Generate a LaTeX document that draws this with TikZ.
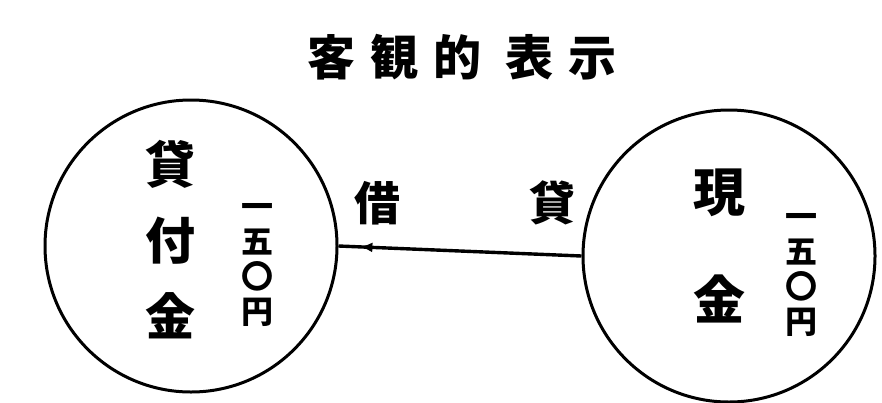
\documentclass[tikz,border=0pt]{standalone}
\usepackage{fontspec}
\newfontfamily\cjk{Noto Sans CJK JP}
\usetikzlibrary{decorations.markings,arrows.meta}
\tikzset{
  ring/.style={circle, draw, line width=3pt, minimum size=292pt, inner sep=0pt},
  bigchar/.style={font=\cjk\bfseries\fontsize{50}{76}\selectfont, align=center, inner sep=0pt},
  numcol/.style={font=\cjk\bfseries\fontsize{32}{35}\selectfont, align=center, inner sep=0pt},
  sidelbl/.style={font=\cjk\bfseries\fontsize{46}{50}\selectfont, inner sep=0pt},
  titlelbl/.style={font=\cjk\bfseries\fontsize{48}{50}\selectfont, inner sep=0pt},
  flow/.style={line width=3.4pt, decoration={markings, mark=at position 0.91 with {\arrow{Latex[length=12pt,width=10pt]}}}, postaction={decorate}}
}
\begin{document}
\begin{tikzpicture}[x=1pt,y=-1pt]
\useasboundingbox (0,0) rectangle (882,402);
\node[titlelbl] (title) at (462,57) {客\hspace{16pt}観\hspace{14pt}的\hspace{24pt}表\hspace{16pt}示};
\node[ring] (L) at (191,246) {};
\node[ring] (R) at (729,256) {};
\node[bigchar] (Lname) at (170,240) {貸\\付\\金};
\node[numcol] (Lamt) at (257,265) {一\\五\\〇\\円};
\node[bigchar, font=\cjk\bfseries\fontsize{52}{108}\selectfont] (Rname) at (719,246) {現\\金};
\node[numcol] (Ramt) at (801,275) {一\\五\\〇\\円};
\node[sidelbl] (debit) at (377,203) {借};
\node[sidelbl] (credit) at (552,203) {貸};
\draw[flow] (R.west) -- (L.east);
\end{tikzpicture}
\end{document}
